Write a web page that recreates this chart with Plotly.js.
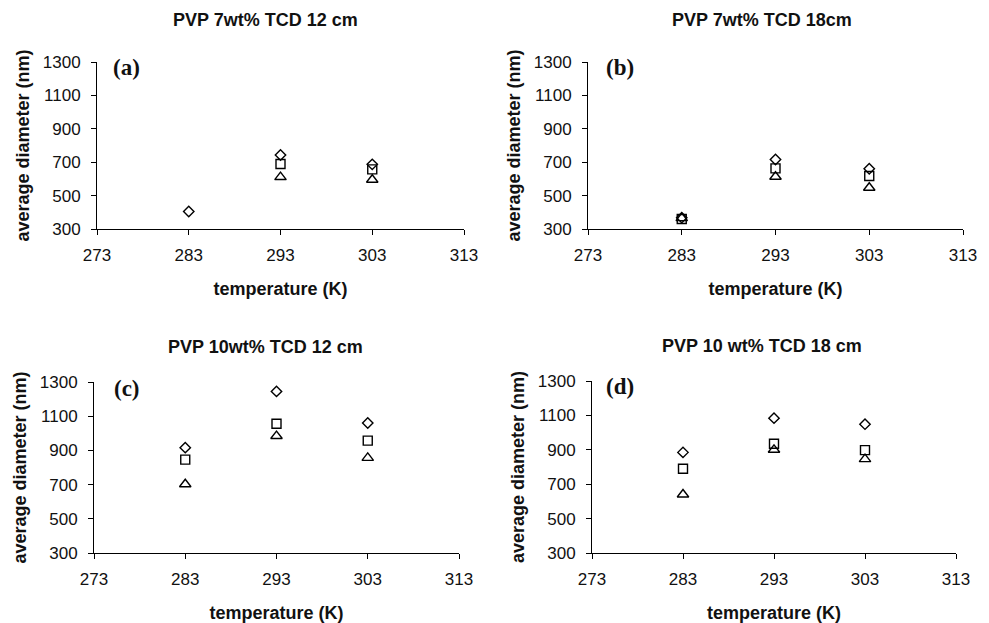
<!DOCTYPE html>
<html>
<head>
<meta charset="utf-8">
<script src="https://cdn.plot.ly/plotly-3.0.1.min.js"></script>
<style>
html,body{margin:0;padding:0;background:#fff;}
#chart{width:989px;height:623px;}
</style>
</head>
<body>
<div id="chart"></div>
<script>
// ---- data ----
const temps = [283, 293, 303];
const panelTitles = ["PVP 7wt% TCD 12 cm", "PVP 7wt% TCD 18cm", "PVP 10wt% TCD 12 cm", "PVP 10 wt% TCD 18 cm"];
const panelLabels = ["(a)", "(b)", "(c)", "(d)"];
const xTickVals = [273, 283, 293, 303, 313];
const yTickVals = [300, 500, 700, 900, 1100, 1300];

const aDiamond  = [405, 743, 687];
const aSquare   = [null, 689, 657];
const aTriangle = [null, 611, 595];

const bDiamond  = [368, 716, 661];
const bSquare   = [360, 663, 617];
const bTriangle = [365, 613, 547];

const cDiamond  = [916, 1245, 1060];
const cSquare   = [846, 1056, 957];
const cTriangle = [702, 984, 856];

const dDiamond  = [885, 1084, 1049];
const dSquare   = [790, 935, 898];
const dTriangle = [640, 900, 846];

const series = [
  [aDiamond, aSquare, aTriangle],
  [bDiamond, bSquare, bTriangle],
  [cDiamond, cSquare, cTriangle],
  [dDiamond, dSquare, dTriangle]
];

// ---- layout geometry (pixels in 989x623) ----
const W = 989, H = 623;
const boxes = [
  {x0: 97,  x1: 464, y0: 62,  y1: 229},
  {x0: 588, x1: 963, y0: 62,  y1: 229},
  {x0: 94,  x1: 459, y0: 382, y1: 553},
  {x0: 592, x1: 956, y0: 381, y1: 553}
];
const titlePos = [{x: 265, y: 20}, {x: 762, y: 20}, {x: 265, y: 347}, {x: 762, y: 346}];
const labelPos = [{x: 127, y: 68}, {x: 620, y: 68}, {x: 127, y: 388}, {x: 620, y: 386}];

const symbols = ["diamond-open", "square-open", "triangle-up-open"];
const sizes = [8, 9, 10];

const traces = [];
const layout = {
  width: W, height: H,
  margin: {l: 0, r: 0, t: 0, b: 0},
  paper_bgcolor: "#fff", plot_bgcolor: "#fff",
  showlegend: false,
  font: {family: "Liberation Sans, Arial, sans-serif", color: "#000"},
  annotations: []
};

series.forEach((set, i) => {
  const n = i + 1;
  const xa = n === 1 ? "x" : "x" + n;
  const ya = n === 1 ? "y" : "y" + n;
  set.forEach((vals, k) => {
    traces.push({
      type: "scatter", mode: "markers",
      x: temps, y: vals, xaxis: xa, yaxis: ya,
      marker: {symbol: symbols[k], size: sizes[k], color: "#000", line: {color: "#000", width: 1.4}},
      cliponaxis: false, hoverinfo: "x+y"
    });
  });
  const b = boxes[i];
  const xKey = n === 1 ? "xaxis" : "xaxis" + n;
  const yKey = n === 1 ? "yaxis" : "yaxis" + n;
  layout[xKey] = {
    domain: [b.x0 / W, b.x1 / W], anchor: ya,
    range: [273, 313], tickvals: xTickVals, ticktext: xTickVals.map(String),
    showgrid: false, zeroline: false, showline: true, linecolor: "#000", linewidth: 1,
    ticks: "outside", ticklen: 5, tickcolor: "#000", tickwidth: 1,
    tickfont: {size: 17, family: "Liberation Sans, Arial, sans-serif", color: "#111"},
    ticklabelstandoff: 6,
    title: {text: "temperature (K)", standoff: 17,
            font: {size: 18, family: "Liberation Sans, Arial, sans-serif", weight: "bold", color: "#111"}}
  };
  layout[yKey] = {
    domain: [1 - b.y1 / H, 1 - b.y0 / H], anchor: xa,
    range: [300, 1300], tickvals: yTickVals, ticktext: yTickVals.map(String),
    showgrid: false, zeroline: false, showline: true, linecolor: "#000", linewidth: 1,
    ticks: "outside", ticklen: 5, tickcolor: "#000", tickwidth: 1,
    tickfont: {size: 17, family: "Liberation Sans, Arial, sans-serif", color: "#111"},
    ticklabelstandoff: 7,
    title: {text: "average diameter (nm)", standoff: 8,
            font: {size: 18, family: "Liberation Sans, Arial, sans-serif", weight: "bold", color: "#111"}}
  };
  layout.annotations.push({
    xref: "paper", yref: "paper", x: titlePos[i].x / W, y: 1 - titlePos[i].y / H,
    xanchor: "center", yanchor: "middle", showarrow: false,
    text: "<b>" + panelTitles[i] + "</b>",
    font: {size: 18, family: "Liberation Sans, Arial, sans-serif", color: "#111"}
  });
  layout.annotations.push({
    xref: "paper", yref: "paper", x: labelPos[i].x / W, y: 1 - labelPos[i].y / H,
    xanchor: "center", yanchor: "middle", showarrow: false,
    text: "<b>" + panelLabels[i] + "</b>",
    font: {size: 23, family: "Liberation Serif, Times New Roman, serif", color: "#111"}
  });
});

Plotly.newPlot("chart", traces, layout, {displayModeBar: false, staticPlot: true});
</script>
</body>
</html>
